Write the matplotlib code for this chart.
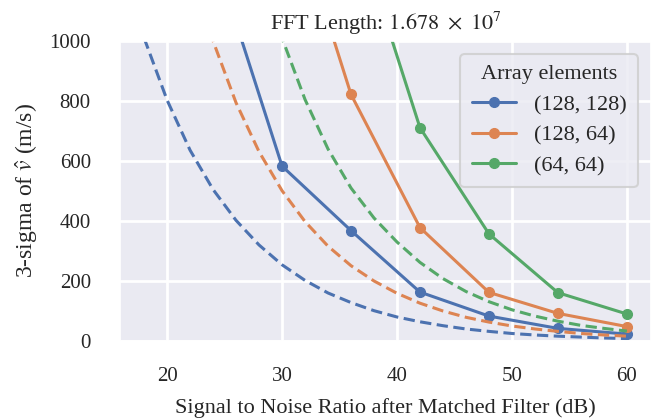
import numpy as np
import matplotlib
matplotlib.use("Agg")
import matplotlib.pyplot as plt
import seaborn as sns

# SNR grid (dB) for the bound curves and the measured points
snr_bound = [18, 20, 22, 24, 26, 28, 30, 32, 34, 36, 38, 40,
             42, 44, 46, 48, 50, 52, 54, 56, 58, 60]
snr_meas = [18, 24, 30, 36, 42, 48, 54, 60]

labels = ["(128, 128)", "(128, 64)", "(64, 64)"]

# measured 3-sigma (m/s), solid lines with markers
meas_128_128 = [2500, 1300, 583, 368, 163, 83, 42, 23]
meas_128_64 = [4000, 2600, 1550, 822, 378, 162, 92, 48]
meas_64_64 = [6000, 4500, 2800, 1430, 711, 357, 161, 90]

# bound curves (m/s), dashed lines
bound_128_128 = [1010, 803, 636, 505, 402, 320, 254, 202, 160, 128, 101, 80,
                 64, 51, 40, 32, 25, 20, 16, 13, 10, 8]
bound_128_64 = [2000, 1590, 1260, 1000, 794, 631, 501, 398, 316, 251, 200, 159,
                126, 100, 79, 63, 50, 40, 32, 25, 20, 16]
bound_64_64 = [4000, 3200, 2540, 2020, 1600, 1275, 1010, 805, 640, 510, 410, 330,
               262, 208, 165, 131, 104, 83, 66, 52, 42, 33]

colors = ["#4C72B0", "#DD8452", "#55A868"]

sns.set_theme(style="darkgrid")
plt.rcParams["font.family"] = ["Liberation Serif", "DejaVu Serif"]
plt.rcParams["mathtext.fontset"] = "stix"

fig = plt.figure(figsize=(6.57, 4.19), dpi=100)
ax = fig.add_axes([0.1826, 0.1862, 0.8083, 0.7159])

meas = [meas_128_128, meas_128_64, meas_64_64]
bounds = [bound_128_128, bound_128_64, bound_64_64]
for i in range(3):
    ax.plot(snr_meas, meas[i], "-o", color=colors[i], lw=2.2, ms=7, label=labels[i])
    ax.plot(snr_bound, bounds[i], "--", color=colors[i], lw=2.2, dashes=(3.7, 1.8))

ax.grid(True, color="white", linewidth=2.0)
ax.set_ylim(0, 1000)
ax.set_xlim(15.9, 62.1)
ax.set_xticks([20, 30, 40, 50, 60])
ax.set_yticks([0, 200, 400, 600, 800, 1000])
ax.tick_params(axis="both", labelsize=15, length=0)
ax.tick_params(axis="x", pad=19)
ax.tick_params(axis="y", pad=21)

ax.set_xlabel("Signal to Noise Ratio after Matched Filter (dB)", fontsize=16, labelpad=8.5)
ax.set_ylabel(r"3-sigma of $\hat{v}$ (m/s)", fontsize=17, labelpad=7)
ax.set_title(r"FFT Length: $1.678\ \times\ 10^7$", fontsize=16, pad=8)

leg = ax.legend(title="Array elements", loc="upper right", fontsize=16,
                title_fontsize=16, borderpad=0.5, borderaxespad=0.6,
                labelspacing=0.45)
leg.get_frame().set_linewidth(1.5)

fig.savefig("out.png", dpi=100)
